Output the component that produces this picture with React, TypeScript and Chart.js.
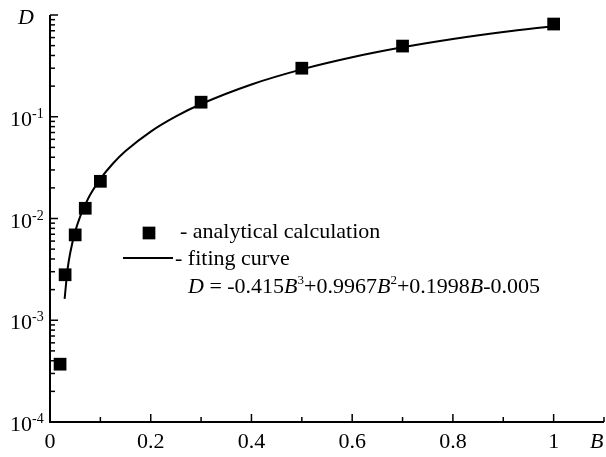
import React, { useEffect, useRef } from 'react';
import { Chart, registerables } from 'chart.js';

Chart.register(...registerables);

// Analytical calculation points (B, D)
const pointB = [0.02, 0.03, 0.05, 0.07, 0.1, 0.3, 0.5, 0.7, 1.0];
const pointD = [0.00037, 0.0028, 0.0069, 0.0126, 0.0232, 0.139, 0.3, 0.495, 0.815];

// Fitting curve
const curveB = [0.029, 0.035, 0.04, 0.05, 0.06, 0.07, 0.08, 0.1, 0.125, 0.15, 0.2, 0.25, 0.3, 0.4, 0.5, 0.6, 0.7, 0.8, 0.9, 1.0];
const curveD = [0.00162, 0.0032, 0.00456, 0.00743, 0.0105, 0.0137, 0.0172, 0.0245, 0.0347, 0.046, 0.0715, 0.1008, 0.1334, 0.2078, 0.2922, 0.3841, 0.4809, 0.5802, 0.6796, 0.7765];

const xTickValues = [0, 0.2, 0.4, 0.6, 0.8, 1];
const xTickLabels = ['0', '0.2', '0.4', '0.6', '0.8', '1'];
const yTickValues = [1e-4, 1e-3, 1e-2, 1e-1];
const yTickExponents = ['-4', '-3', '-2', '-1'];

const xAxisTitle = 'B';
const yAxisTitle = 'D';
const legendLabels = ['- analytical calculation', '- fiting curve'];
// formula pieces: [text, style] n = normal, i = italic, s = superscript
const formulaParts: [string, string][] = [
  ['D', 'i'], [' = -0.415', 'n'], ['B', 'i'], ['3', 's'],
  ['+0.9967', 'n'], ['B', 'i'], ['2', 's'],
  ['+0.1998', 'n'], ['B', 'i'], ['-0.005', 'n'],
];

const FONT = '"Liberation Serif", "Times New Roman", serif';

const axesPlugin = {
  id: 'customAxes',
  afterDraw(chart: any) {
    const ctx = chart.ctx;
    const xs = chart.scales.x;
    const ys = chart.scales.y;
    const a = chart.chartArea;
    ctx.save();
    ctx.strokeStyle = '#000';
    ctx.fillStyle = '#000';
    ctx.lineWidth = 2;
    ctx.lineCap = 'butt';
    // axes lines
    ctx.beginPath();
    ctx.moveTo(a.left, a.top);
    ctx.lineTo(a.left, a.bottom + 1);
    ctx.moveTo(a.left - 1, a.bottom);
    ctx.lineTo(a.right, a.bottom);
    ctx.stroke();

    ctx.lineWidth = 1.5;
    // x ticks (inward)
    for (let i = 0; i <= 11; i++) {
      const v = i / 10;
      const px = xs.getPixelForValue(v);
      const major = i % 2 === 0;
      const len = major ? 8 : 5;
      ctx.beginPath();
      ctx.moveTo(px, a.bottom);
      ctx.lineTo(px, a.bottom - len);
      ctx.stroke();
    }
    // y ticks (inward)
    for (let d = -4; d <= 0; d++) {
      const base = Math.pow(10, d);
      const py = ys.getPixelForValue(base);
      ctx.beginPath();
      ctx.moveTo(a.left, py);
      ctx.lineTo(a.left + 8, py);
      ctx.stroke();
      if (d < 0) {
        for (let m = 2; m <= 9; m++) {
          const pm = ys.getPixelForValue(m * base);
          ctx.beginPath();
          ctx.moveTo(a.left, pm);
          ctx.lineTo(a.left + 5, pm);
          ctx.stroke();
        }
      }
    }

    // x tick labels
    ctx.font = `22px ${FONT}`;
    ctx.textAlign = 'center';
    ctx.textBaseline = 'alphabetic';
    xTickValues.forEach((v, i) => {
      ctx.fillText(xTickLabels[i], xs.getPixelForValue(v), a.bottom + 26);
    });
    // y tick labels 10^n
    yTickValues.forEach((v, i) => {
      const py = ys.getPixelForValue(v);
      ctx.font = `22px ${FONT}`;
      ctx.textAlign = 'right';
      ctx.fillText('10', 32, py + 9);
      ctx.font = `14px ${FONT}`;
      ctx.textAlign = 'left';
      ctx.fillText(yTickExponents[i], 32, py + 1);
    });
    // axis titles
    ctx.font = `italic 22px ${FONT}`;
    ctx.textAlign = 'left';
    ctx.fillText(yAxisTitle, 18, 24);
    ctx.fillText(xAxisTitle, a.right - 14, a.bottom + 26);

    // legend
    const side = 12.7;
    ctx.fillRect(149 - side / 2, 233 - side / 2, side, side);
    ctx.lineWidth = 2;
    ctx.beginPath();
    ctx.moveTo(123, 258);
    ctx.lineTo(173, 258);
    ctx.stroke();
    ctx.font = `22px ${FONT}`;
    ctx.fillText(legendLabels[0], 180, 238);
    ctx.fillText(legendLabels[1], 175, 265);

    let fx = 188;
    const fy = 293;
    formulaParts.forEach(([t, s]) => {
      if (s === 'i') {
        ctx.font = `italic 22px ${FONT}`;
        ctx.fillText(t, fx, fy);
      } else if (s === 's') {
        ctx.font = `13px ${FONT}`;
        ctx.fillText(t, fx, fy - 9);
      } else {
        ctx.font = `22px ${FONT}`;
        ctx.fillText(t, fx, fy);
      }
      fx += ctx.measureText(t).width;
    });
    ctx.restore();
  },
};

export default function App() {
  const ref = useRef<HTMLCanvasElement | null>(null);
  useEffect(() => {
    if (!ref.current) return;
    const chart = new Chart(ref.current, {
      type: 'scatter',
      data: {
        datasets: [
          {
            type: 'scatter',
            label: 'analytical calculation',
            data: pointB.map((b, i) => ({ x: b, y: pointD[i] })),
            pointStyle: 'rect',
            pointRadius: 9,
            pointBorderWidth: 0,
            backgroundColor: '#000',
            borderColor: '#000',
            order: 0,
          },
          {
            type: 'line',
            label: 'fiting curve',
            data: curveB.map((b, i) => ({ x: b, y: curveD[i] })),
            borderColor: '#000',
            borderWidth: 2,
            pointRadius: 0,
            fill: false,
            cubicInterpolationMode: 'monotone',
            order: 1,
          } as any,
        ],
      },
      options: {
        animation: false,
        responsive: false,
        maintainAspectRatio: false,
        devicePixelRatio: 1,
        layout: { autoPadding: false, padding: { top: 15, right: 2, left: 0, bottom: 0 } },
        plugins: { legend: { display: false }, tooltip: { enabled: false } },
        scales: {
          x: {
            type: 'linear',
            min: 0,
            max: 1.1,
            grid: { display: false },
            border: { display: false },
            ticks: { display: false },
            afterFit: (s: any) => { s.height = 35; },
          },
          y: {
            type: 'logarithmic',
            min: 1e-4,
            max: 1,
            grid: { display: false },
            border: { display: false },
            ticks: { display: false },
            afterFit: (s: any) => { s.width = 50; },
          },
        },
      },
      plugins: [axesPlugin],
    });
    return () => chart.destroy();
  }, []);
  return (
    <div style={{ position: 'fixed', left: 0, top: 0, width: 606, height: 457, background: '#fff' }}>
      <canvas ref={ref} width={606} height={457} style={{ display: 'block', width: 606, height: 457 }} />
    </div>
  );
}
